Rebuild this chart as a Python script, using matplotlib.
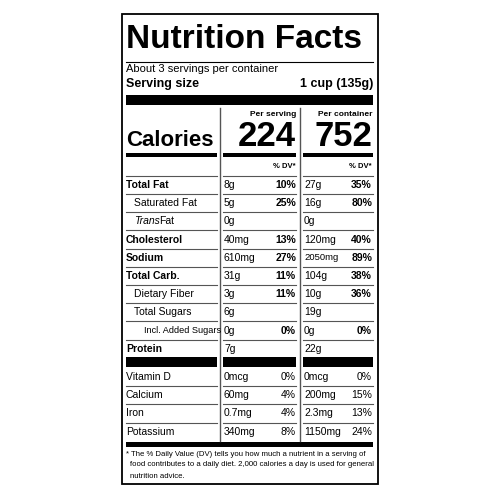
import matplotlib.pyplot as plt
from matplotlib.patches import Rectangle

plt.rcParams['font.family'] = ['Liberation Sans', 'DejaVu Sans']

# ==================== data ====================
nutrients = ["Total Fat", "Saturated Fat", "Trans Fat", "Cholesterol", "Sodium", "Total Carb.",
             "Dietary Fiber", "Total Sugars", "Incl. Added Sugars", "Protein"]
indent = [0, 1, 1, 0, 0, 0, 1, 1, 2, 0]
bold = [True, False, False, True, True, True, False, False, False, True]
serv_amt = ["8g", "5g", "0g", "40mg", "610mg", "31g", "3g", "6g", "0g", "7g"]
serv_dv = ["10%", "25%", "", "13%", "27%", "11%", "11%", "", "0%", ""]
cont_amt = ["27g", "16g", "0g", "120mg", "2050mg", "104g", "10g", "19g", "0g", "22g"]
cont_dv = ["35%", "80%", "", "40%", "89%", "38%", "36%", "", "0%", ""]

minerals = ["Vitamin D", "Calcium", "Iron", "Potassium"]
min_serv_amt = ["0mcg", "60mg", "0.7mg", "340mg"]
min_serv_dv = ["0%", "4%", "4%", "8%"]
min_cont_amt = ["0mcg", "200mg", "2.3mg", "1150mg"]
min_cont_dv = ["0%", "15%", "13%", "24%"]

calories_serv = 224
calories_cont = 752

# ==================== canvas ====================
fig = plt.figure(figsize=(5, 5), dpi=100)
ax = fig.add_axes([0, 0, 1, 1])
ax.set_xlim(0, 500)
ax.set_ylim(500, 0)
ax.axis('off')

L, R = 126, 373
c1, c2 = 220, 300   # vertical dividers
c1r, c2r = 296, 372


def bar(x0, x1, y0, y1):
    ax.add_patch(Rectangle((x0, y0), x1 - x0, y1 - y0, color='black', lw=0))


def hline(x0, x1, y, lw=0.8, color='#555555'):
    ax.plot([x0, x1], [y, y], color=color, lw=lw)


def txt(x, y, s, size=7.5, weight='normal', ha='left', style='normal', sx=1.0):
    t = ax.text(x, y, s, fontsize=size, fontweight=weight, ha=ha, va='center', style=style)
    return t


# outer box
ax.add_patch(Rectangle((122, 14), 256, 470, fill=False, ec='black', lw=1.3))

txt(L, 40, "Nutrition Facts", size=24, weight='bold')
hline(L, R, 62, lw=0.8, color='black')
txt(L, 69, "About 3 servings per container", size=8)
txt(L, 84, "Serving size", size=9, weight='bold')
txt(R, 84, "1 cup (135g)", size=9, weight='bold', ha='right')
bar(L, R, 95, 105)

# vertical dividers
for xv in (c1, c2):
    ax.plot([xv, xv], [108, 441], color='#555555', lw=1.0)

txt(c1r, 114, "Per serving", size=6, weight='bold', ha='right')
txt(c2r, 114, "Per container", size=6, weight='bold', ha='right')
txt(L, 140, "Calories", size=16, weight='bold')
txt(c1r, 137, str(calories_serv), size=25, weight='bold', ha='right')
txt(c2r, 137, str(calories_cont), size=25, weight='bold', ha='right')
for x0, x1 in ((L, c1 - 3), (c1 + 3, c2 - 4), (c2 + 3, R)):
    bar(x0, x1, 153, 157)
txt(c1r, 166, "% DV*", size=5.5, weight='bold', ha='right')
txt(c2r, 166, "% DV*", size=5.5, weight='bold', ha='right')


def seg_lines(y):
    for x0, x1 in ((L, c1 - 3), (c1 + 3, c2 - 4), (c2 + 3, R)):
        hline(x0, x1, y)


seg_lines(175.5)
y = 185
step = 18.2
for i, name in enumerate(nutrients):
    x = L + [0, 8, 18][indent[i]]
    w = 'bold' if bold[i] else 'normal'
    if name == "Trans Fat":
        txt(x, y, "Trans", style='italic')
        txt(x + 25, y, "Fat")
    elif indent[i] == 2:
        txt(x, y, name, size=6.6)
    else:
        txt(x, y, name, weight=w)
    txt(c1 + 4, y, serv_amt[i])
    txt(c1r, y, serv_dv[i], weight='bold', ha='right')
    txt(c2 + 4, y, cont_amt[i], size=7.5 if len(cont_amt[i]) < 6 else 6.8)
    txt(c2r, y, cont_dv[i], weight='bold', ha='right')
    if i < len(nutrients) - 1:
        seg_lines(y + step / 2)
    y += step

for x0, x1 in ((L, c1 - 3), (c1 + 3, c2 - 4), (c2 + 3, R)):
    bar(x0, x1, 357, 367)

y = 377
for i, name in enumerate(minerals):
    txt(L, y, name)
    txt(c1 + 4, y, min_serv_amt[i])
    txt(c1r, y, min_serv_dv[i], ha='right')
    txt(c2 + 4, y, min_cont_amt[i])
    txt(c2r, y, min_cont_dv[i], ha='right')
    if i < len(minerals) - 1:
        seg_lines(y + step / 2)
    y += step

bar(L, R, 442, 447)
txt(L, 454, "* The % Daily Value (DV) tells you how much a nutrient in a serving of", size=5.6)
txt(L + 4, 465, "food contributes to a daily diet. 2,000 calories a day is used for general", size=5.6)
txt(L + 4, 476, "nutrition advice.", size=5.6)

fig.savefig("out.png", dpi=100)
